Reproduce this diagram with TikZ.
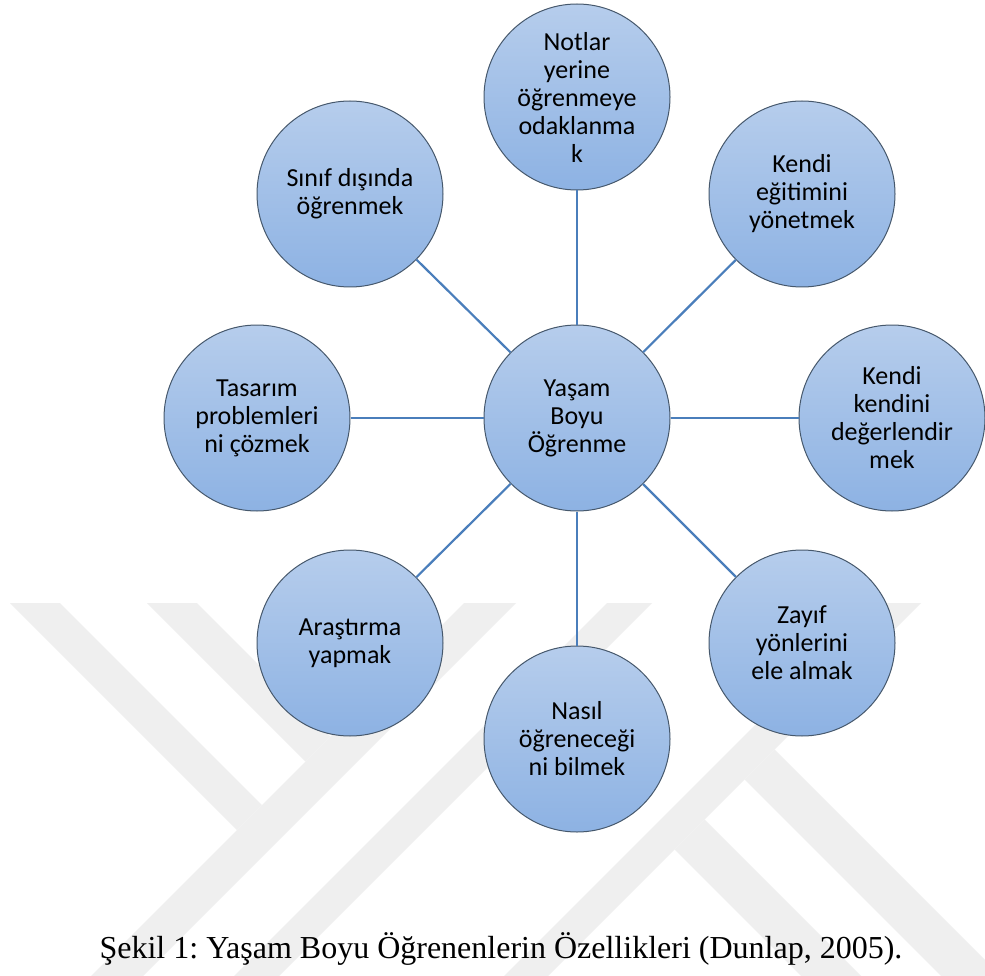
\documentclass[tikz,border=0pt]{standalone}
\usepackage{fontspec}
\setmainfont{Liberation Serif}
\newfontfamily\calibri{Carlito}
\definecolor{bubtop}{RGB}{182,205,236}
\definecolor{bubbot}{RGB}{141,178,227}
\definecolor{bubline}{RGB}{70,88,108}
\definecolor{linkblue}{RGB}{74,126,187}
\definecolor{wmgray}{RGB}{239,239,239}
\begin{document}
\frenchspacing
\begin{tikzpicture}[x=1pt,y=-1pt,
  bub/.style={circle, draw=bubline, line width=1pt, top color=bubtop, bottom color=bubbot,
    minimum size=186pt, inner sep=0pt, align=center,
    font=\calibri\fontsize{26}{28}\selectfont},
  link/.style={draw=linkblue, line width=2.2pt},
  wm/.style={fill=wmgray}]
\useasboundingbox (0,0) rectangle (985,976);
\fill[white] (0,0) rectangle (985,976);
% watermark
\begin{scope}
  \clip (0,603) rectangle (985,976);
  \fill[wm] (10,603) -- (60,603) -- (262,805) -- (237,830) -- cycle;
  \fill[wm] (147,603) -- (197,603) -- (330.5,736.5) -- (305.5,761.5) -- cycle;
  \fill[wm] (464,603) -- (516,603) -- (143,976) -- (91,976) -- cycle;
  \fill[wm] (607,603) -- (652,603) -- (279,976) -- (234,976) -- cycle;
  \fill[wm] (877,603) -- (921,603) -- (548,976) -- (504,976) -- cycle;
  \fill[wm] (774.5,749.5) -- (1100,1075) -- (1040,1075) -- (744.5,779.5) -- cycle;
  \fill[wm] (704.5,819.5) -- (960,1075) -- (900,1075) -- (674.5,849.5) -- cycle;
\end{scope}
% nodes
\node[bub] (c)  at (577,418) {Yaşam\\Boyu\\Öğrenme};
\node[bub] (n)  at (577,97)  {Notlar\\yerine\\öğrenmeye\\odaklanma\\k};
\node[bub] (ne) at (802,194) {Kendi\\eğitimini\\yönetmek};
\node[bub] (e)  at (892,418) {Kendi\\kendini\\değerlendir\\mek};
\node[bub] (se) at (802,643) {Zayıf\\yönlerini\\ele almak};
\node[bub] (s)  at (577,739) {Nasıl\\öğreneceği\\ni bilmek};
\node[bub] (sw) at (350,643) {Araştırma\\yapmak};
\node[bub] (w)  at (257,418) {Tasarım\\problemleri\\ni çözmek};
\node[bub] (nw) at (350,194) {Sınıf dışında\\öğrenmek};
% connectors
\foreach \t in {n,ne,e,se,s,sw,w,nw} \draw[link] (c) -- (\t);
% caption
\node[font=\fontsize{32}{38}\selectfont, anchor=base, inner sep=0pt] (cap) at (501,958)
  {Şekil 1: Yaşam Boyu Öğrenenlerin Özellikleri (Dunlap, 2005).};
\end{tikzpicture}
\end{document}
